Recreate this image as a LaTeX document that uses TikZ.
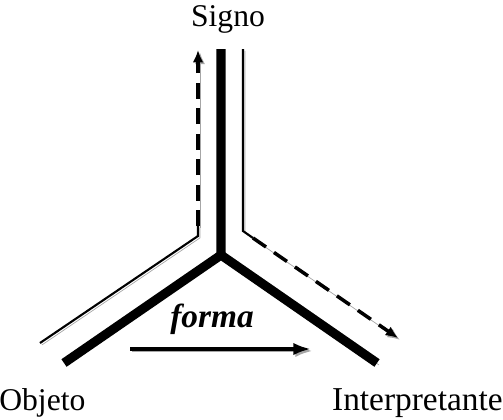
\documentclass[tikz,border=0pt]{standalone}
\usepackage{fontspec}
\setmainfont{Liberation Serif}
\usetikzlibrary{arrows.meta, positioning}

\begin{document}
\begin{tikzpicture}[
    x=0.02cm, y=-0.02cm,
    line join=miter,
    % Styles for the sign triangle
    shadowed/.style={preaction={draw=black!35, transform canvas={shift={(1.1pt,-1.1pt)}}}},
    stem/.style={draw=black, line width=5.2pt, shadowed},
    track/.style={draw=black, line width=1.2pt, shadowed},
    flow/.style={draw=black, line width=2pt, dash pattern=on 9pt off 5.5pt, shadowed,
                 -{Latex[length=7pt,width=6pt]}},
    label/.style={font=\fontsize{18}{20}\selectfont, inner sep=0pt}
]
    \useasboundingbox (0,0) rectangle (503,419);

    % 1. The three poles
    \node[label, anchor=base] (signo) at (228,27) {Signo};
    \node[label, anchor=base west] (objeto) at (-1,410) {Objeto};
    \node[label, anchor=base east, font=\fontsize{19}{21}\selectfont] (interp) at (503,410) {Interpretante};

    % 2. The thick Y
    \coordinate (Top) at (221,49);
    \coordinate (Mid) at (221,255);
    \coordinate (Left) at (64,363);
    \coordinate (Right) at (377,363);
    \draw[stem] (Top) -- (Mid) -- (Left);
    \draw[stem] (Mid) -- (Right);

    % 3. Left track: Objeto up to Signo
    \coordinate (La) at (40,343);
    \coordinate (Lb) at (198,236);
    \coordinate (Lc) at (198,226);
    \coordinate (Ld) at (198,50);
    \draw[track] (La) -- (Lb) -- (Lc);
    \draw[flow] (Lc) -- (Ld);

    % 4. Right track: Signo down to Interpretante
    \coordinate (Ra) at (243,49);
    \coordinate (Rb) at (243,231);
    \coordinate (Rc) at (253,238);
    \coordinate (Rd) at (398,338);
    \draw[track] (Ra) -- (Rb) -- (Rc);
    \draw[flow] (Rc) -- (Rd);

    % 5. The form arrow
    \node[font=\fontsize{19}{21}\selectfont\bfseries\itshape, inner sep=0pt, anchor=base] (forma) at (212,327) {forma};
    \coordinate (Fa) at (130,349);
    \coordinate (Fb) at (311,349);
    \draw[black, line width=2pt, shadowed, -{Latex[length=10pt,width=7pt]}] (Fa) -- (Fb);

\end{tikzpicture}
\end{document}
